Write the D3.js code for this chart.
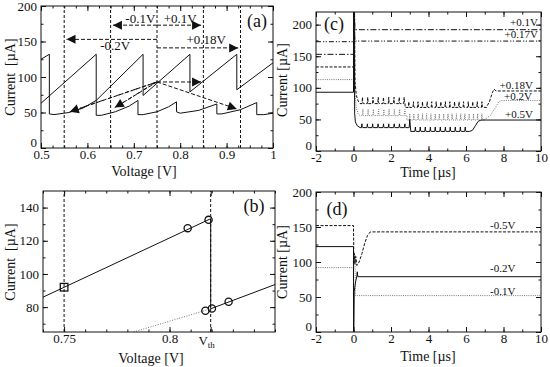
<!DOCTYPE html>
<html>
<head>
<meta charset="utf-8">
<script src="https://cdn.jsdelivr.net/npm/d3@7/dist/d3.min.js"></script>
<style>
  body { margin: 0; background: #fff; }
  svg { display: block; }
  text { font-family: "Liberation Serif", "Times New Roman", serif; fill: #111; }
</style>
</head>
<body>
<svg id="fig" width="550" height="367"></svg>
<script>
// ---------- panel (a): I-V sweep ----------
const aUpper = [
  [[0.500, 125], [0.518, 132], [0.518, 48]],
  [[0.500, 63], [0.619, 132], [0.619, 46]],
  [[0.619, 67], [0.720, 132], [0.720, 74]],
  [[0.720, 74], [0.821, 132], [0.821, 79]],
  [[0.821, 79], [0.922, 132], [0.922, 82]],
  [[0.922, 82], [1.000, 120]]
];
const aLower = [
  [[0.518, 48], [0.528, 47], [0.56, 50], [0.59, 56], [0.619, 67]],
  [[0.619, 46], [0.63, 46], [0.66, 51], [0.69, 59], [0.709, 67], [0.709, 47]],
  [[0.709, 47], [0.72, 47], [0.75, 51], [0.775, 58], [0.792, 65], [0.792, 51]],
  [[0.792, 51], [0.80, 49], [0.84, 53], [0.879, 62], [0.879, 48]],
  [[0.879, 48], [0.89, 48], [0.93, 54], [0.965, 64], [0.965, 47]],
  [[0.965, 47], [0.98, 47], [1.0, 49]]
];
const aGuides = [0.55, 0.65, 0.75, 0.85, 0.93];
const aArrows = [
  [[0.75, 173], [0.655, 173]],
  [[0.75, 173], [0.845, 173]],
  [[0.75, 153], [0.555, 153]],
  [[0.75, 141], [0.925, 141]],
  [[0.75, 93], [0.845, 93]],
  [[0.75, 93], [0.922, 55]],
  [[0.75, 93], [0.562, 51]],
  [[0.75, 93], [0.659, 57]]
];
const aArrowsFaint = [
  [[0.745, 92], [0.566, 52]],
  [[0.745, 92], [0.663, 58]]
];
const aLabels = [["-0.1V", 0.714, 176], ["+0.1V", 0.800, 176], ["-0.2V", 0.660, 138], ["+0.18V", 0.856, 146]];
const aXTicks = [0.5, 0.6, 0.7, 0.8, 0.9, 1];
const aYTicks = [0, 50, 100, 150, 200];

// ---------- panel (b): zoom near threshold ----------
const bUpper = [[0.74, 86], [0.8195, 133.3]];
const bDrop = [[0.8195, 133.3], [0.8195, 79]];
const bLower = [[0.8195, 79], [0.85, 93.6]];
const bLowerDotted = [[0.783, 65], [0.8195, 79]];
const bCircles = [[0.8086, 127.6], [0.8185, 132.6], [0.817, 77.8], [0.8201, 79.2], [0.828, 83.2]];
const bSquares = [[0.75, 92]];
const bVth = 0.8195;
const bGuides = [0.75, bVth];
const bXTicks = [0.75, 0.8];
const bYTicks = [80, 100, 120, 140];

// ---------- panel (c): positive steps ----------
const c01 = [[-2, 153], [0, 153], [0.01, 230], [0.05, 230], [0.07, 192], [10, 192]];
const c017 = [[-2, 173], [0, 173], [0.01, 230], [0.05, 230], [0.07, 174], [10, 174]];
const c018Head = [[-2, 133], [0, 133], [0.01, 230], [0.05, 230], [0.08, 110], [0.15, 88], [0.25, 79], [0.35, 75]];
const c018Reg1 = { t0: 0.35, t1: 2.75, base: 75, peak: 85, at: [0.48, 0.76, 1.04, 1.32, 1.6, 1.88, 2.16, 2.44, 2.7] };
const c018Reg2 = { t0: 2.75, t1: 7.1, base: 69, peak: 78, at: [2.95, 3.2, 3.44, 3.68, 3.93, 4.17, 4.41, 4.66, 4.9, 5.14, 5.39, 5.63, 5.87, 6.12, 6.36, 6.6, 6.85] };
const c018Tail = [[7.1, 70], [7.25, 78], [7.4, 92], [7.5, 98], [7.6, 95], [10, 95]];
const c02Head = [[-2, 113], [0, 113], [0.01, 230], [0.05, 230], [0.08, 90], [0.15, 68], [0.25, 59], [0.35, 56]];
const c02Reg1 = { t0: 0.35, t1: 2.85, base: 56, peak: 66, at: [0.5, 0.78, 1.06, 1.34, 1.62, 1.9, 2.18, 2.46, 2.74] };
const c02Reg2 = { t0: 2.85, t1: 7.0, base: 49, peak: 59, at: [3.0, 3.22, 3.45, 3.68, 3.9, 4.13, 4.36, 4.58, 4.81, 5.04, 5.26, 5.49, 5.72, 5.94, 6.17, 6.4, 6.62, 6.85] };
const c02Tail = [[7.0, 50], [7.3, 56], [7.55, 68], [7.75, 78], [7.9, 80], [10, 80]];
const c05Head = [[-2, 93], [0, 93], [0.005, 230], [0.04, 230], [0.06, 60], [0.1, 46], [0.2, 40], [0.35, 37]];
const c05Reg1 = { t0: 0.35, t1: 2.95, base: 37, peak: 43, at: [0.45, 0.74, 1.02, 1.31, 1.6, 1.88, 2.17, 2.45, 2.74] };
const c05Jump = [[2.97, 37], [3.0, 50], [3.05, 33]];
const c05Reg2 = { t0: 3.05, t1: 6.2, base: 31, peak: 38, at: [3.3, 3.56, 3.83, 4.1, 4.36, 4.63, 4.9, 5.16, 5.43, 5.7, 5.96] };
const c05Tail = [[6.2, 31], [6.35, 33], [6.5, 40], [6.65, 47], [6.8, 49], [10, 49]];
const cLabels = [["+0.1V", 538, 26], ["+0.17V", 538, 38], ["+0.18V", 533, 89], ["+0.2V", 532, 100], ["+0.5V", 533, 118]];

// ---------- panel (d): negative steps ----------
const d05 = [[-2, 152], [0, 152], [0.02, 100], [0.05, 112], [0.08, 97], [0.12, 108], [0.18, 95], [0.3, 100], [0.45, 112], [0.6, 127], [0.75, 138], [0.9, 143], [1.0, 143], [10, 143]];
const d02 = [[-2, 122], [0, 122], [0, 0], [0.02, 0], [0.04, 58], [0.1, 70], [0.18, 80], [0.2, 86], [0.23, 79], [10, 79]];
const d01 = [[-2, 92], [0, 92], [0.02, 105], [0.05, 97], [0.08, 110], [0.1, 52], [10, 52]];
const dLabels = [["-0.5V", 490, 229], ["-0.2V", 490, 272], ["-0.1V", 490, 295]];

const tTicks = [-2, 0, 2, 4, 6, 8, 10];

// ---------- drawing ----------
const svg = d3.select('#fig');
const line = d3.line().x(d => d[0]).y(d => d[1]);

function panel(id, box, xd, yd, xMaj, xMin, yMaj, yMin, xFmt, yFmt) {
  const x = d3.scaleLinear().domain(xd).range([box.l, box.r]);
  const y = d3.scaleLinear().domain(yd).range([box.b, box.t]);
  const g = svg.append('g');
  g.append('clipPath').attr('id', id)
    .append('rect').attr('x', box.l).attr('y', box.t)
    .attr('width', box.r - box.l).attr('height', box.b - box.t);

  function ax(gen, scale, vals, size, fmt, tr, pad) {
    const a = g.append('g').attr('transform', tr)
      .call(gen(scale).tickValues(vals).tickSize(-size).tickPadding(pad || 3).tickFormat(fmt || ''));
    a.select('.domain').remove();
    a.attr('font-family', null).attr('font-size', 13);
    a.selectAll('line').attr('stroke', '#111');
    return a;
  }
  ax(d3.axisBottom, x, xMaj, 5, xFmt, `translate(0,${box.b})`, 2);
  ax(d3.axisBottom, x, xMin, 2.5, null, `translate(0,${box.b})`);
  ax(d3.axisTop, x, xMaj, 5, null, `translate(0,${box.t})`);
  ax(d3.axisTop, x, xMin, 2.5, null, `translate(0,${box.t})`);
  const yl = ax(d3.axisLeft, y, yMaj, 5, yFmt, `translate(${box.l},0)`, 4);
  // lift the bottom value label a little so it clears the x labels
  yl.selectAll('text').filter(d => d === yd[0]).attr('dy', '-0.12em');
  ax(d3.axisLeft, y, yMin, 2.5, null, `translate(${box.l},0)`);
  ax(d3.axisRight, y, yMaj, 5, null, `translate(${box.r},0)`);
  ax(d3.axisRight, y, yMin, 2.5, null, `translate(${box.r},0)`);

  const plot = g.append('g').attr('clip-path', `url(#${id})`);
  g.append('rect').attr('x', box.l).attr('y', box.t)
    .attr('width', box.r - box.l).attr('height', box.b - box.t)
    .attr('fill', 'none').attr('stroke', '#111').attr('stroke-width', 1);
  const path = pts => pts.map(p => [x(p[0]), y(p[1])]);
  return { x, y, g, plot, path };
}

function draw(p, pts, dash, color, w) {
  p.plot.append('path').attr('d', line(p.path(pts)))
    .attr('fill', 'none').attr('stroke', color || '#111')
    .attr('stroke-width', w || 1)
    .attr('stroke-dasharray', dash || null);
}

function arrowHead(p, from, to) {
  const x1 = p.x(from[0]), y1 = p.y(from[1]), x2 = p.x(to[0]), y2 = p.y(to[1]);
  const ang = Math.atan2(y2 - y1, x2 - x1) * 180 / Math.PI;
  p.plot.append('path').attr('d', 'M0,0L-9,-4.5L-9,4.5Z')
    .attr('transform', `translate(${x2},${y2}) rotate(${ang})`)
    .attr('fill', '#111');
}

// narrow spikes on a flat base, one per time
function spikes(r) {
  const pts = [[r.t0, r.base]];
  r.at.forEach(s => {
    pts.push([s - 0.025, r.base], [s, r.peak], [s + 0.015, r.base + 2], [s + 0.045, r.base]);
  });
  pts.push([r.t1, r.base]);
  return pts;
}

const fmt = d => String(d);
const titleFont = 14;

// panel (a)
const A = panel('clipA', { l: 41, r: 273, t: 6, b: 148 }, [0.5, 1], [0, 200],
  aXTicks, d3.range(0, 21).map(i => 0.5 + i * 0.025), aYTicks, d3.range(0, 9).map(i => i * 25), fmt, fmt);
aGuides.forEach(v => draw(A, [[v, 0], [v, 200]], '3,2'));
aUpper.forEach(s => draw(A, s));
aLower.forEach(s => draw(A, s));
aArrows.forEach(a => { draw(A, a, '4,2'); arrowHead(A, a[0], a[1]); });
aArrowsFaint.forEach(a => draw(A, a, '4,2,1,2'));
aLabels.forEach(l => A.g.append('text').attr('x', A.x(l[1])).attr('y', A.y(l[2]))
  .attr('text-anchor', 'middle').attr('font-size', 13).text(l[0]));
A.g.append('text').attr('x', 257).attr('y', 27).attr('text-anchor', 'middle').attr('font-size', 18).text('(a)');
A.g.append('text').attr('x', 144).attr('y', 176).attr('text-anchor', 'middle').attr('font-size', titleFont).text('Voltage [V]');
A.g.append('text').attr('transform', 'translate(15,77) rotate(-90)').attr('text-anchor', 'middle')
  .attr('font-size', titleFont).attr('xml:space', 'preserve').text('Current  [µA]');

// panel (b)
const B = panel('clipB', { l: 43, r: 275, t: 191, b: 332 }, [0.74, 0.85], [65, 150],
  bXTicks.concat([bVth]), d3.range(0, 12).map(i => 0.74 + i * 0.01), bYTicks, d3.range(7, 15).map(i => i * 10),
  d => (d === bVth ? '' : fmt(d)), fmt);
bGuides.forEach(v => draw(B, [[v, 65], [v, 150]], '3,2'));
draw(B, bLowerDotted, '1,1.5', '#777');
draw(B, bUpper);
draw(B, bDrop);
draw(B, bLower);
bCircles.forEach(c => B.plot.append('circle').attr('cx', B.x(c[0])).attr('cy', B.y(c[1])).attr('r', 3.6)
  .attr('fill', 'none').attr('stroke', '#111').attr('stroke-width', 1.3));
bSquares.forEach(c => B.plot.append('rect').attr('x', B.x(c[0]) - 3.8).attr('y', B.y(c[1]) - 3.8)
  .attr('width', 7.6).attr('height', 7.6).attr('fill', 'none').attr('stroke', '#111').attr('stroke-width', 1.3));
const vth = B.g.append('text').attr('x', B.x(bVth) - 4).attr('y', 345).attr('text-anchor', 'middle').attr('font-size', 13);
vth.append('tspan').text('V');
vth.append('tspan').attr('font-size', 9).attr('dy', 3).text('th');
B.g.append('text').attr('x', 254).attr('y', 212).attr('text-anchor', 'middle').attr('font-size', 18).text('(b)');
B.g.append('text').attr('x', 151).attr('y', 363).attr('text-anchor', 'middle').attr('font-size', titleFont).text('Voltage [V]');
B.g.append('text').attr('transform', 'translate(15,262) rotate(-90)').attr('text-anchor', 'middle')
  .attr('font-size', titleFont).attr('xml:space', 'preserve').text('Current  [µA]');

// panel (c)
const C = panel('clipC', { l: 316, r: 541, t: 12, b: 151 }, [-2, 10], [0, 220],
  tTicks, d3.range(-2, 11), [0, 50, 100, 150, 200], d3.range(0, 9).map(i => i * 25), fmt, fmt);
draw(C, c01, '6,2,1.5,2');
draw(C, c017, '5,2,1.2,1.5,1.2,2');
draw(C, [...c02Head, ...spikes(c02Reg1), ...spikes(c02Reg2), ...c02Tail], '1,1.2', '#777');
draw(C, [...c018Head, ...spikes(c018Reg1), ...spikes(c018Reg2), ...c018Tail], '3,1.5');
draw(C, [...c05Head, ...spikes(c05Reg1), ...c05Jump, ...spikes(c05Reg2), ...c05Tail]);
cLabels.forEach(l => C.g.append('text').attr('x', l[1]).attr('y', l[2]).attr('text-anchor', 'end')
  .attr('font-size', 11).text(l[0]));
C.g.append('text').attr('x', 334).attr('y', 30).attr('text-anchor', 'middle').attr('font-size', 18).text('(c)');
C.g.append('text').attr('x', 428).attr('y', 177).attr('text-anchor', 'middle').attr('font-size', titleFont).text('Time [µs]');
C.g.append('text').attr('transform', 'translate(287,80) rotate(-90)').attr('text-anchor', 'middle')
  .attr('font-size', titleFont).text('Current [µA]');

// panel (d)
const D = panel('clipD', { l: 316, r: 541, t: 192, b: 332 }, [-2, 10], [0, 200],
  tTicks, d3.range(-2, 11), [0, 50, 100, 150, 200], d3.range(0, 9).map(i => i * 25), fmt, fmt);
draw(D, d01, '1,1.2', '#777');
draw(D, d05, '3,1.5');
draw(D, d02);
dLabels.forEach(l => D.g.append('text').attr('x', l[1]).attr('y', l[2]).attr('font-size', 11).text(l[0]));
D.g.append('text').attr('x', 337).attr('y', 215).attr('text-anchor', 'middle').attr('font-size', 18).text('(d)');
D.g.append('text').attr('x', 428).attr('y', 361).attr('text-anchor', 'middle').attr('font-size', titleFont).text('Time [µs]');
D.g.append('text').attr('transform', 'translate(287,262) rotate(-90)').attr('text-anchor', 'middle')
  .attr('font-size', titleFont).text('Current [µA]');
</script>
</body>
</html>
